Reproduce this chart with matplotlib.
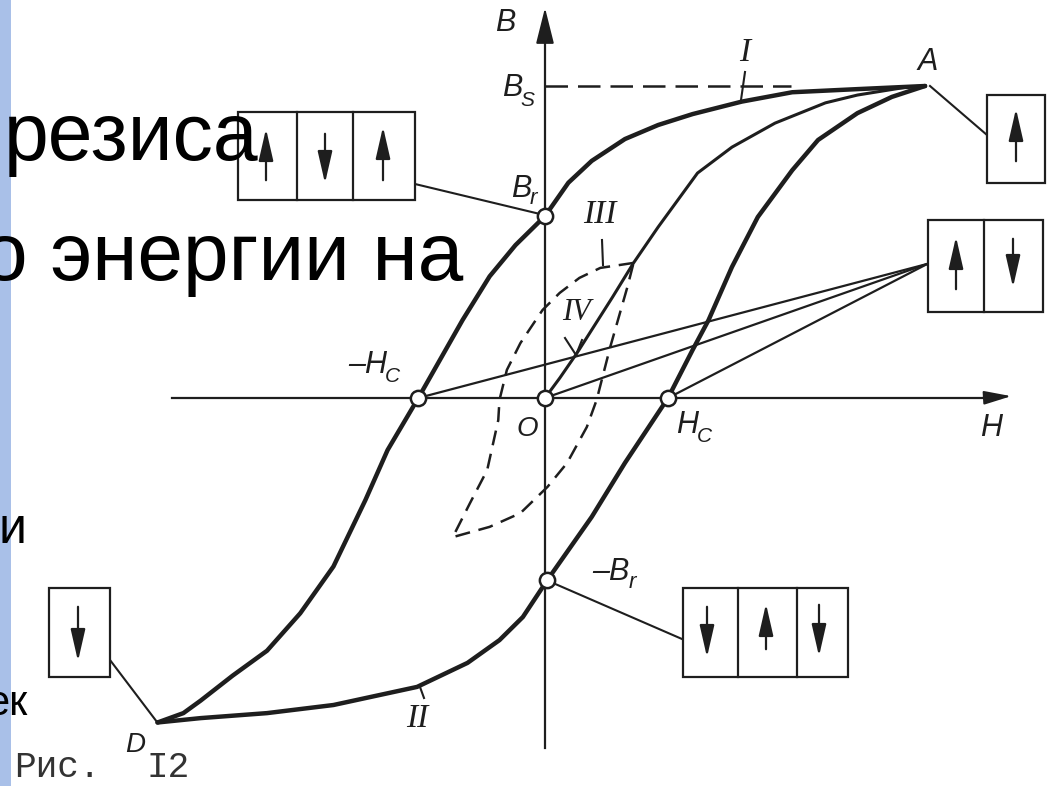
import matplotlib
matplotlib.use("Agg")
import matplotlib.pyplot as plt
from matplotlib.patches import FancyArrowPatch, Rectangle

# ---------------- data (H in units of Hc, B in units of Bs) ----------------
# descending branch I: from A to D
branch1_H = [3.09, 2.54, 2.01, 1.60, 1.20, 0.92, 0.65, 0.38, 0.19, 0.00, -0.24, -0.45,
             -0.67, -1.03, -1.28, -1.46, -1.72, -1.99, -2.26, -2.54, -2.80, -2.94, -3.15]
branch1_B = [1.00, 0.99, 0.98, 0.95, 0.91, 0.875, 0.83, 0.76, 0.69, 0.583, 0.49, 0.39,
             0.25, 0.00, -0.167, -0.327, -0.54, -0.69, -0.81, -0.89, -0.97, -1.01, -1.04]
# ascending branch II: from D to A
branch2_H = [-3.15, -2.80, -2.26, -1.72, -1.04, -0.63, -0.37, -0.18, 0.02, 0.38, 0.65, 1.00,
             1.20, 1.33, 1.52, 1.73, 2.01, 2.22, 2.54, 2.82, 3.09]
branch2_B = [-1.04, -1.026, -1.01, -0.984, -0.926, -0.849, -0.776, -0.702, -0.583, -0.381,
             -0.208, 0.00, 0.154, 0.25, 0.42, 0.58, 0.73, 0.827, 0.913, 0.965, 1.00]
# initial magnetisation curve from O to A
initial_H = [0.00, 0.12, 0.26, 0.55, 0.72, 0.92, 1.24, 1.52, 1.87, 2.28, 2.54, 2.95, 3.09]
initial_B = [0.00, 0.064, 0.144, 0.324, 0.433, 0.548, 0.721, 0.804, 0.881, 0.946, 0.971, 0.997, 1.00]
# minor (dashed) loop III
minor_H = [0.72, 0.45, 0.28, 0.12, -0.02, -0.20, -0.31, -0.37, -0.38, -0.47, -0.61, -0.75,
           -0.45, -0.20, 0.02, 0.18, 0.34, 0.42, 0.53, 0.67, 0.72]
minor_B = [0.433, 0.417, 0.385, 0.337, 0.282, 0.176, 0.090, -0.006, -0.071, -0.231, -0.337, -0.446,
           -0.413, -0.369, -0.285, -0.208, -0.093, -0.006, 0.163, 0.356, 0.433]
# straight lines converging at a common point
line_start_H = [-1.03, 0.00, 1.00]
line_end = (3.11, 0.43)
# characteristic points
Bs = 1.00
marked_H = [0.00, -1.03, 0.00, 1.00, 0.02]
marked_B = [0.583, 0.00, 0.00, 0.00, -0.583]

INK = "#1e1e1e"
W, H_ = 1051, 786
fig = plt.figure(figsize=(W / 100, H_ / 100), dpi=100)
ax = fig.add_axes([0, 0, 1, 1])
X0, Y0, SX, SY = 545, 398, 123, 312
ax.set_xlim(-X0 / SX, (W - X0) / SX)
ax.set_ylim(-(H_ - Y0) / SY, Y0 / SY)
ax.axis("off")


def px(x, y):
    """layout helper: picture position -> data coordinates"""
    return ((x - X0) / SX, (Y0 - y) / SY)


# side bar of the slide (under the text)
ax.add_patch(Rectangle((0, 0), 11 / W, 1, transform=ax.transAxes, fc="#a9c0e8", ec="none", zorder=0.5))

# ---------------- axes ----------------
ax.plot(*zip(px(172, 398), px(1000, 398)), color=INK, lw=1.6, zorder=2)
ax.add_patch(FancyArrowPatch(px(980, 398), px(1014, 396), arrowstyle="-|>,head_length=1.2,head_width=0.3",
                             mutation_scale=14, color=INK, lw=1.4, zorder=3))
ax.plot(*zip(px(545, 748), px(545, 30)), color=INK, lw=1.6, zorder=2)
ax.add_patch(FancyArrowPatch(px(545, 40), px(545, 5), arrowstyle="-|>,head_length=1.6,head_width=0.4",
                             mutation_scale=14, color=INK, lw=1.4, zorder=3))

# Bs dashed line
ax.plot([0, 2.0], [Bs, Bs], color=INK, lw=1.8, dashes=(9, 4), zorder=2)

# ---------------- curves ----------------
ax.plot(branch1_H, branch1_B, color=INK, lw=3.2, solid_joinstyle="round", solid_capstyle="round", zorder=4)
ax.plot(branch2_H, branch2_B, color=INK, lw=3.2, solid_joinstyle="round", solid_capstyle="round", zorder=4)
ax.plot(initial_H, initial_B, color=INK, lw=2.2, solid_joinstyle="round", zorder=4)
ax.plot(minor_H, minor_B, color=INK, lw=1.8, dashes=(6, 3.5), zorder=4)
for h0 in line_start_H:
    ax.plot([h0, line_end[0]], [0, line_end[1]], color=INK, lw=1.6, zorder=3)

ax.plot(marked_H, marked_B, "o", ms=11, mfc="white", mec=INK, mew=1.8, zorder=6)


# ---------------- domain boxes ----------------
def box(x0, y0, x1, y1, dividers, arrows):
    a = px(x0, y1)
    b = px(x1, y0)
    ax.add_patch(Rectangle(a, b[0] - a[0], b[1] - a[1], fill=True, fc="white", ec=INK, lw=1.6, zorder=5))
    for d in dividers:
        ax.plot(*zip(px(d, y0), px(d, y1)), color=INK, lw=1.6, zorder=6)
    for (xa, ytail, yhead) in arrows:
        ax.add_patch(FancyArrowPatch(px(xa, ytail), px(xa, yhead),
                                     arrowstyle="-|>,head_length=1.4,head_width=0.32",
                                     mutation_scale=14, color=INK, lw=1.6, zorder=7))


box(238, 112, 415, 200, [297, 353], [(266, 183, 126), (325, 131, 186), (383, 183, 124)])
box(987, 95, 1045, 183, [], [(1016, 164, 106)])
box(928, 220, 1043, 312, [984], [(956, 292, 234), (1013, 236, 290)])
box(683, 588, 848, 677, [738, 797], [(707, 604, 660), (766, 652, 601), (819, 602, 659)])
box(49, 588, 110, 677, [], [(78, 604, 664)])

# connectors
for p, q in [((415, 184), (540, 214)), ((930, 86), (987, 135)), ((553, 583), (682, 639)),
             ((110, 660), (157, 722))]:
    ax.plot(*zip(px(*p), px(*q)), color=INK, lw=1.5, zorder=3)

# leader ticks for curve labels
for p, q in [((745, 72), (741, 100)), ((602, 240), (603, 265)), ((420, 687), (424, 698))]:
    ax.plot(*zip(px(*p), px(*q)), color=INK, lw=1.5, zorder=3)
ax.plot(*zip(px(565, 338), px(576, 355), px(582, 340)), color=INK, lw=1.5, zorder=3)

# ---------------- labels ----------------
lab = dict(family="Liberation Sans", style="italic", color=INK, zorder=8)
rom = dict(family="Liberation Serif", style="italic", color=INK, zorder=8)


def t(x, y, s, size=24, ha="center", va="center", **kw):
    ax.text(*px(x, y), s, fontsize=size, ha=ha, va=va, **kw)


t(505, 23, "B", 22, **lab)
t(522, 88, "B", 22, ha="right", **lab)
t(520, 101, "S", 15, ha="left", **lab)
t(531, 189, "B", 22, ha="right", **lab)
t(530, 199, "r", 16, ha="left", **lab)
t(928, 62, "A", 22, **lab)
t(745, 53, "I", 24, **rom)
t(600, 215, "III", 24, **rom)
t(576, 313, "IV", 22, **rom)
t(387, 365, "–H", 22, ha="right", **lab)
t(385, 377, "C", 15, ha="left", **lab)
t(527, 429, "O", 20, **lab)
t(698, 425, "H", 22, ha="right", **lab)
t(697, 437, "C", 15, ha="left", **lab)
t(991, 428, "H", 22, **lab)
t(630, 572, "–B", 22, ha="right", **lab)
t(629, 583, "r", 16, ha="left", **lab)
t(417, 719, "II", 24, **rom)
t(135, 745, "D", 20, **lab)

ax.text(*px(14, 777), "Рис.", fontsize=26, family="Liberation Mono", color="#333333",
        ha="left", va="baseline", zorder=8)
ax.text(*px(147, 777), "I2", fontsize=26, family="Liberation Mono", color="#333333",
        ha="left", va="baseline", zorder=8)

# ---------------- slide text (over the side bar) ----------------
slide = dict(family="Liberation Sans", color="black", ha="right", va="baseline", zorder=9)
ax.text(*px(258, 160), "резиса", fontsize=58, **slide)
ax.text(*px(463, 280), "о энергии на", fontsize=59, **slide)
ax.text(*px(26, 543), "и", fontsize=36, **slide)
ax.text(*px(28, 715), "ек", fontsize=30, **slide)

fig.savefig("out.png", dpi=100, facecolor="white")
